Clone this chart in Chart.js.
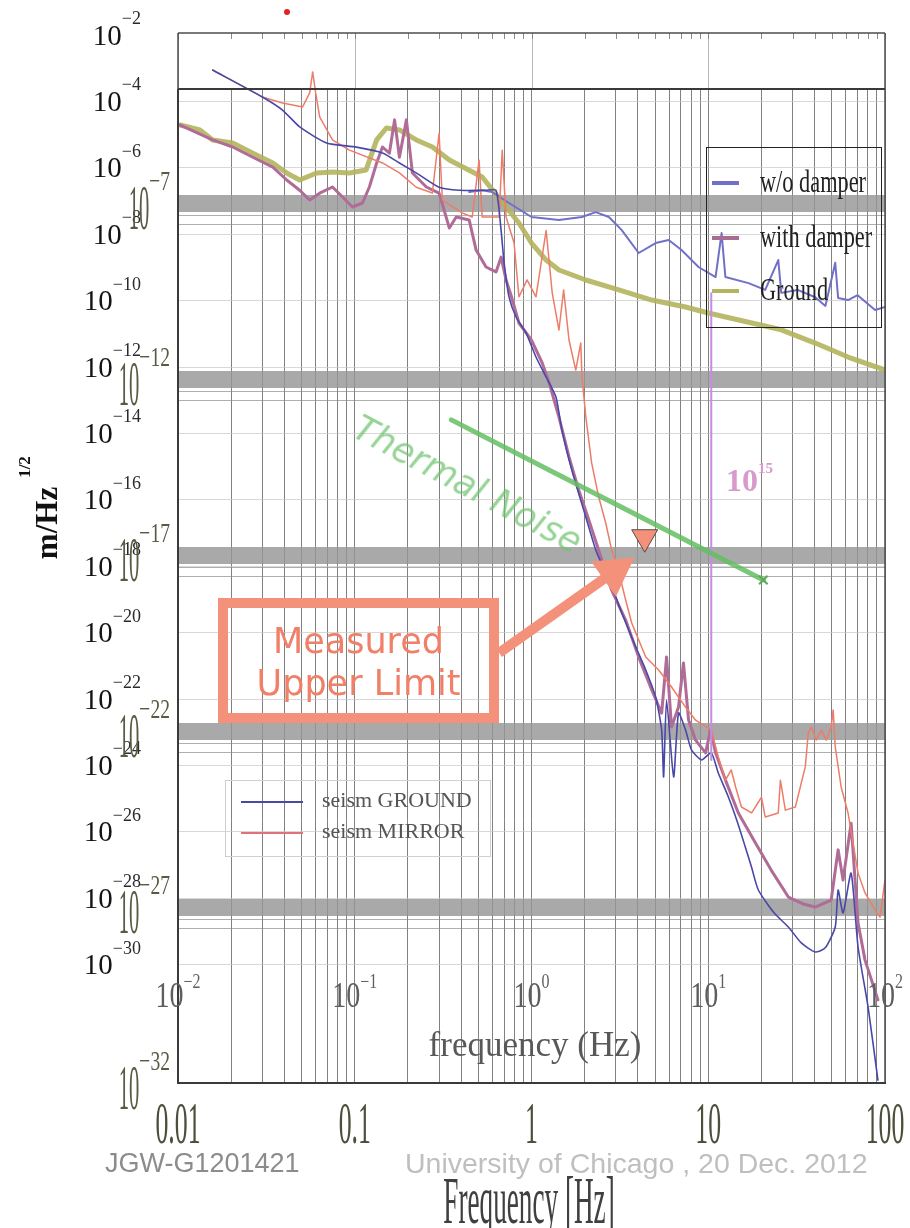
<!DOCTYPE html>
<html>
<head>
<meta charset="utf-8">
<title>Seismic noise spectra</title>
<script src="https://cdn.jsdelivr.net/npm/chart.js@4.4.1/dist/chart.umd.min.js"></script>
<style>
  html, body { margin: 0; padding: 0; background: #fff; }
  #wrap { position: relative; width: 910px; height: 1228px; overflow: hidden; }
  #plot { position: absolute; left: 0; top: 0; width: 910px; height: 1228px; }
  .ov { position: absolute; white-space: nowrap; }
  .box { position: absolute; box-sizing: border-box; }
  .sw { position: absolute; display: block; }
  .serif { font-family: 'Liberation Serif', 'DejaVu Serif', serif; }
  .fun { font-family: 'DejaVu Sans', 'Lato', sans-serif; }
</style>
</head>
<body>
<div id="wrap">
  <canvas id="plot" width="910" height="1228"></canvas>

  <!-- damper legend -->
  <div class="box" style="left:706px; top:147px; width:176px; height:181px; border:1.5px solid #222;">
    <span class="sw" style="left:5px; top:33px; width:27px; height:4px; background:#7070c8;"></span>
    <span class="sw" style="left:5px; top:88px; width:27px; height:4px; background:#a86c92;"></span>
    <span class="sw" style="left:5px; top:141px; width:27px; height:4px; background:#b4b45e;"></span>
    <div class="ov serif" style="left:53px; top:16px; font-size:31px; color:#222; transform:scaleX(0.72); transform-origin:left center;">w/o damper</div>
    <div class="ov serif" style="left:53px; top:71px; font-size:31px; color:#222; transform:scaleX(0.72); transform-origin:left center;">with damper</div>
    <div class="ov serif" style="left:53px; top:124px; font-size:31px; color:#222; transform:scaleX(0.72); transform-origin:left center;">Ground</div>
  </div>

  <!-- seism legend -->
  <div class="box" style="left:225px; top:780px; width:266px; height:77px; border:1px solid #cfcfcf;">
    <span class="sw" style="left:15px; top:20px; width:62px; height:1.5px; background:#4848a8;"></span>
    <span class="sw" style="left:15px; top:51px; width:62px; height:1.5px; background:#e0707a;"></span>
    <div class="ov serif" style="left:96px; top:6px; font-size:22px; color:#555;">seism GROUND</div>
    <div class="ov serif" style="left:96px; top:37px; font-size:22px; color:#555;">seism MIRROR</div>
  </div>

  <!-- annotations -->
  <div class="ov fun" style="left:356px; top:405px; line-height:40px; font-size:35px; font-style:italic; color:rgba(110,196,110,0.72); transform:rotate(28deg); transform-origin:left center;">Thermal Noise</div>

  <div class="box" style="left:218px; top:598px; width:281px; height:125px; border:10px solid #f4917a;">
    <div class="ov fun" style="left:0; width:261px; top:13px; text-align:center; font-size:35px; color:#f08068;">Measured</div>
    <div class="ov fun" style="left:0; width:261px; top:55px; text-align:center; font-size:35px; color:#f08068;">Upper Limit</div>
  </div>

  <div class="ov serif" style="left:726px; top:460px; font-size:32px; font-weight:bold; color:#d79acb;">10<sup style="font-size:15px; vertical-align:18px;">15</sup></div>

  <div class="ov" style="left:284px; top:9px; width:6px; height:6px; border-radius:3px; background:#e02424;"></div>

  <div class="ov" style="left:105px; top:1148px; font-family:'Liberation Sans', 'Open Sans', sans-serif; font-size:27px; color:#8c8c8c;">JGW-G1201421</div>
  <div class="ov" style="left:405px; top:1147px; font-family:'Liberation Sans', 'Open Sans', sans-serif; font-size:28.5px; color:#bfbfbf;">University of Chicago , 20 Dec. 2012</div>
</div>

<script>
// ---- axis bounds and tick values ----
const FREQ_DECADES = [0.01, 0.1, 1, 10, 100];
const FREQ_LABELS = ['0.01', '0.1', '1', '10', '100'];
const INNER_Y_LABELS = [1e-7, 1e-12, 1e-17, 1e-22, 1e-27, 1e-32];
const INNER_Y_BANDS = [1e-7, 1e-12, 1e-17, 1e-22, 1e-27];
const OUTER_Y_LABELS = [1e-2, 1e-4, 1e-6, 1e-8, 1e-10, 1e-12, 1e-14, 1e-16, 1e-18, 1e-20, 1e-22, 1e-24, 1e-26, 1e-28, 1e-30];
const INNER_MIN = 1e-32, INNER_MAX = 6.76e-3, INNER_TOP = 1.73e-4;
const OUTER_MIN = 2.72e-34, OUTER_MAX = 1.148e-2;

// ---- seism GROUND / seism MIRROR (right-hand scale set) ----
const seismGroundFreq = [0.0157, 0.030, 0.039, 0.0488, 0.0693, 0.102, 0.1435, 0.179, 0.232, 0.30, 0.39, 0.553, 0.63, 0.673, 0.70, 0.746, 0.818, 0.931, 1.06, 1.21, 1.375, 1.486, 1.69, 2.03, 2.31, 2.63, 3.0, 3.24, 3.89, 4.43, 5.04, 5.45, 5.59, 5.81, 6.37, 6.79, 7.44, 8.05, 9.17, 10.4, 11.4, 13.0, 14.6, 16.2, 17.5, 19.2, 23.7, 28.4, 33.6, 40.3, 45.9, 52.3, 54.3, 57.9, 64.3, 70.4, 80.2, 91.2];
const seismGroundAmp = [8.8e-4, 1.36e-4, 5.5e-5, 1.7e-5, 5.6e-6, 4.2e-6, 2.8e-6, 1.4e-6, 6.1e-7, 2.6e-7, 2.1e-7, 2.1e-7, 2.1e-7, 1.3e-8, 1.36e-9, 1.3e-10, 3.2e-11, 1.06e-11, 2.0e-12, 5.0e-13, 1.25e-13, 1.26e-14, 7.9e-16, 3.0e-17, 3.1e-18, 6.2e-19, 1.18e-19, 3.9e-20, 3.7e-21, 7.5e-22, 1.15e-22, 1.16e-23, 4.5e-25, 9.3e-23, 4.5e-25, 3.8e-23, 1.16e-23, 2.9e-24, 1.46e-24, 2.4e-24, 5.9e-25, 1.12e-25, 2.0e-26, 3.5e-27, 9.3e-28, 1.77e-28, 3.5e-29, 1.36e-29, 4.5e-30, 2.4e-30, 3.2e-30, 1.36e-29, 1.77e-28, 3.6e-29, 5.7e-28, 3.4e-30, 5.3e-32, 3.3e-34];

const seismMirrorFreq = [0.0157, 0.030, 0.039, 0.0507, 0.0556, 0.0578, 0.0601, 0.0633, 0.0748, 0.0933, 0.1435, 0.179, 0.223, 0.275, 0.30, 0.313, 0.405, 0.462, 0.505, 0.526, 0.656, 0.683, 0.718, 0.797, 0.849, 0.944, 1.06, 1.21, 1.31, 1.43, 1.52, 1.63, 1.78, 1.90, 1.93, 2.03, 2.19, 2.40, 2.63, 2.84, 3.03, 3.41, 3.69, 4.43, 5.24, 6.2, 7.44, 8.48, 10.4, 11.4, 12.5, 13.5, 14.3, 15.4, 17.6, 20, 21, 24.9, 25.6, 27.3, 31.1, 35.4, 36.8, 38.3, 40.8, 43.6, 46.5, 49.6, 50.9, 52.3, 56.5, 61.8, 70.4, 77.1, 87.9, 93.7, 100];
const seismMirrorAmp = [8.8e-4, 1.36e-4, 8.9e-5, 6.8e-5, 1.8e-4, 7.7e-4, 1.8e-4, 3.4e-5, 6.9e-6, 3.4e-6, 1.4e-6, 7.0e-7, 2.6e-7, 1.74e-7, 1.1e-5, 1.07e-7, 4.4e-8, 3.3e-8, 1.7e-6, 3.3e-8, 3.3e-8, 3.4e-6, 3.3e-8, 5.4e-9, 1.3e-10, 4.2e-10, 1.3e-10, 1.3e-8, 1.7e-10, 1.3e-11, 2.1e-10, 6.5e-12, 8.1e-13, 5.3e-12, 5.0e-13, 3.1e-14, 1.28e-15, 1.21e-16, 2.0e-17, 3.1e-18, 1.25e-18, 9.6e-20, 1.95e-20, 1.84e-21, 7.5e-22, 2.3e-22, 5.7e-23, 2.3e-23, 1.16e-23, 1.8e-24, 3.6e-25, 7.3e-25, 2.2e-25, 5.6e-26, 3.7e-26, 1.1e-25, 2.8e-26, 3.7e-26, 3.6e-25, 4.5e-26, 5.6e-26, 9.0e-25, 9.5e-24, 1.44e-23, 5.8e-24, 1.16e-23, 5.8e-24, 1.44e-23, 4.7e-23, 3.6e-24, 2.2e-25, 3.7e-26, 5.7e-28, 1.44e-28, 4.4e-29, 2.7e-29, 3.5e-28];

// ---- damper comparison (left-hand scale set) ----
const groundFreq = [0.0103, 0.0133, 0.0157, 0.0204, 0.0265, 0.0344, 0.0412, 0.0488, 0.0608, 0.0748, 0.0933, 0.116, 0.133, 0.151, 0.179, 0.223, 0.275, 0.343, 0.526, 0.718, 0.849, 1.0, 1.21, 1.43, 2.03, 3.12, 4.79, 7.44, 10.0, 25.9, 40.3, 61.8, 100];
const groundAmp = [1.64e-5, 1.19e-5, 6.2e-6, 5.1e-6, 2.6e-6, 1.37e-6, 7.1e-7, 4.5e-7, 7.1e-7, 7.6e-7, 7.1e-7, 8.7e-7, 6.2e-6, 1.35e-5, 1.19e-5, 6.2e-6, 3.9e-6, 1.67e-6, 5.5e-7, 7.7e-8, 2.7e-8, 7.3e-9, 2.4e-9, 1.25e-9, 6.5e-10, 3.4e-10, 1.75e-10, 1.11e-10, 7.5e-11, 2.5e-11, 1.05e-11, 4.2e-12, 1.8e-12];

const withDamperFreq = [0.0103, 0.0157, 0.0204, 0.0265, 0.0344, 0.0412, 0.0488, 0.0556, 0.0633, 0.0748, 0.0853, 0.097, 0.1106, 0.121, 0.133, 0.1435, 0.157, 0.168, 0.179, 0.196, 0.212, 0.254, 0.30, 0.343, 0.375, 0.444, 0.486, 0.553, 0.63, 0.673, 0.718, 0.766, 0.849, 1.0, 1.15, 1.26, 1.43, 1.63, 1.85, 2.11, 2.5, 2.84, 3.41, 4.04, 4.79, 5.45, 5.81, 6.2, 6.79, 7.24, 7.74, 8.48, 9.66, 10.3, 11.0, 12.5, 14.8, 18.5, 22.7, 28.4, 34.4, 40.3, 49.6, 54.3, 57.9, 64.3, 70.4, 77.1, 91.2];
const withDamperAmp = [1.64e-5, 6.2e-6, 3.9e-6, 2.0e-6, 1.05e-6, 4.5e-7, 2.3e-7, 1.22e-7, 1.9e-7, 2.85e-7, 1.48e-7, 7.7e-8, 1.0e-7, 2.85e-7, 1.37e-6, 3.9e-6, 2.6e-6, 2.3e-5, 2.0e-6, 2.3e-5, 7.1e-7, 2.85e-7, 1.9e-7, 1.95e-8, 4.0e-8, 3.3e-8, 4.6e-9, 1.52e-9, 1.1e-9, 2.9e-9, 6.5e-10, 2.4e-10, 3.9e-11, 1.28e-11, 2.85e-12, 7.7e-13, 8.3e-14, 6.1e-15, 7.0e-16, 9.9e-17, 7.2e-18, 1.0e-18, 1.42e-19, 1.26e-20, 1.46e-21, 3.2e-22, 1.26e-20, 1.3e-22, 4.8e-22, 8.6e-21, 2.05e-22, 5.5e-23, 2.4e-23, 1.07e-22, 2.4e-23, 4.1e-24, 4.7e-25, 6.6e-26, 1.12e-26, 1.92e-27, 1.22e-27, 1.0e-27, 1.58e-27, 4.2e-26, 5.8e-27, 2.4e-25, 3.5e-28, 3.1e-29, 2.3e-30];

const noDamperFreq = [0.444, 0.526, 0.598, 0.746, 1.0, 1.43, 1.93, 2.31, 2.74, 3.24, 4.04, 5.04, 5.97, 7.06, 8.81, 11.0, 11.9, 12.5, 16.9, 21, 24.9, 25.9, 32, 40.3, 46, 52.3, 54.3, 61.8, 70, 87.9, 100];
const noDamperAmp = [2.06e-7, 2.3e-7, 2.06e-7, 1.0e-7, 4.0e-8, 3.3e-8, 4.0e-8, 5.5e-8, 4.0e-8, 1.7e-8, 3.8e-9, 7.3e-9, 8.9e-9, 4.6e-9, 1.52e-9, 7.9e-10, 1.4e-8, 7.9e-10, 5.3e-10, 3.4e-10, 2.4e-9, 2.8e-10, 3.4e-10, 2.1e-10, 1.19e-10, 2.0e-9, 2.0e-10, 1.75e-10, 2.4e-10, 9.1e-11, 1.11e-10];

// thermal noise estimate, measured upper limit marker and arrow, 10 Hz resonance line
const thermalFreq = [0.352, 3.0, 20.5];
const thermalAmp = [6.9e-14, 2.75e-16, 1.95e-18];
const limitFreq = [4.37];
const limitAmp = [3.2e-17];
const arrowFreq = [0.656, 2.92];
const arrowAmp = [1.66e-20, 3.3e-18];
const resonanceFreq = [10.4, 10.4];
const resonanceAmp = [2.75e-10, 1.5e-23];

const pts = (fs, vs) => fs.map((f, i) => ({ x: f, y: vs[i] }));

// all 1..9 x 10^n grid lines along frequency
const freqGrid = [];
FREQ_DECADES.slice(0, -1).forEach(d => { for (let k = 1; k <= 9; k++) freqGrid.push(k * d); });
freqGrid.push(100);

const bandSet = new Set(INNER_Y_BANDS);
const SERIF = "'Liberation Serif', 'DejaVu Serif', serif";

function line(ctx, x1, y1, x2, y2) {
  ctx.beginPath(); ctx.moveTo(x1, y1); ctx.lineTo(x2, y2); ctx.stroke();
}

// text squeezed horizontally, y is the baseline
function squeezed(ctx, text, x, y, size, sx, color, align, weight) {
  ctx.save();
  ctx.font = `${weight || 'normal'} ${size}px ${SERIF}`;
  ctx.fillStyle = color;
  ctx.textBaseline = 'alphabetic';
  ctx.textAlign = 'left';
  const w = ctx.measureText(text).width * sx;
  const left = align === 'right' ? x - w : align === 'center' ? x - w / 2 : x;
  ctx.translate(left, y);
  ctx.scale(sx, 1);
  ctx.fillText(text, 0, 0);
  ctx.restore();
  return w;
}

// "10" with a raised exponent; y is the visual centre of the base digits
function power(ctx, exp, x, y, st) {
  ctx.save();
  ctx.font = `${st.weight || 'normal'} ${st.size}px ${SERIF}`;
  const bw = ctx.measureText('10').width * st.sx;
  ctx.font = `${st.weight || 'normal'} ${st.expSize}px ${SERIF}`;
  const ew = ctx.measureText(exp).width * st.esx;
  ctx.restore();
  const left = st.align === 'right' ? x - bw - ew : x - (bw + ew) / 2;
  squeezed(ctx, '10', left, y + 0.33 * st.size, st.size, st.sx, st.color, 'left', st.weight);
  squeezed(ctx, exp, left + bw, y - st.rise + 0.33 * st.expSize, st.expSize, st.esx, st.expColor || st.color, 'left', st.weight);
}

const framePlugin = {
  id: 'frames',
  beforeDatasetsDraw(chart) {
    const { ctx, chartArea: a, scales } = chart;
    const innerTop = scales.yD.getPixelForValue(INNER_TOP);
    ctx.save();
    ctx.fillStyle = '#fff';
    ctx.fillRect(a.left, a.top, a.right - a.left, innerTop - a.top);
    ctx.strokeStyle = '#b8b8b8';
    ctx.lineWidth = 1;
    FREQ_DECADES.forEach(v => {
      const px = Math.round(scales.x.getPixelForValue(v)) + 0.5;
      line(ctx, px, a.top, px, innerTop);
    });
    ctx.strokeStyle = '#8a8a8a';
    freqGrid.forEach(v => {
      const px = Math.round(scales.x.getPixelForValue(v)) + 0.5;
      line(ctx, px, a.top, px, a.top + 6);
    });
    ctx.restore();
  },
  afterDatasetsDraw(chart) {
    const { ctx, chartArea: a, scales } = chart;
    const innerTop = scales.yD.getPixelForValue(INNER_TOP);
    ctx.save();
    // outer frame
    ctx.strokeStyle = '#4d4d4d';
    ctx.lineWidth = 1.5;
    line(ctx, a.left, a.top, a.right, a.top);
    line(ctx, a.left, a.top, a.left, innerTop);
    line(ctx, a.right, a.top, a.right, a.bottom);
    // inner frame
    ctx.strokeStyle = '#3a3a3a';
    ctx.lineWidth = 2;
    line(ctx, a.left, innerTop, a.right, innerTop);
    line(ctx, a.left, innerTop, a.left, a.bottom);
    line(ctx, a.left - 1, a.bottom, a.right + 1, a.bottom);
    ctx.restore();
  },
  afterDraw(chart) {
    const { ctx, scales } = chart;
    const x = scales.x, yD = scales.yD, yS = scales.yS;

    OUTER_Y_LABELS.forEach(v => {
      const exp = '\u2212' + Math.round(-Math.log10(v));
      power(ctx, exp, 141, yS.getPixelForValue(v), {
        size: 29, expSize: 18, sx: 1, esx: 1, rise: 17, color: '#141414', expColor: '#2a2a2a', align: 'right'
      });
    });

    INNER_Y_LABELS.forEach(v => {
      const exp = '\u2212' + Math.round(-Math.log10(v));
      power(ctx, exp, 170, yD.getPixelForValue(v) + 5, {
        size: 64, expSize: 28, sx: 0.32, esx: 0.7, rise: 27, color: '#5a5a44', align: 'right'
      });
    });

    FREQ_DECADES.forEach((v, i) => {
      const px = x.getPixelForValue(v);
      squeezed(ctx, FREQ_LABELS[i], px, 1143, 60, 0.43, '#4e4e3c', 'center');
      const exp = (v < 1 ? '\u2212' : '') + Math.round(Math.abs(Math.log10(v)));
      power(ctx, exp, px, 995, {
        size: 36, expSize: 20, sx: 0.78, esx: 0.8, rise: 14, color: '#5e5e5e', align: 'center'
      });
    });

    squeezed(ctx, 'Frequency [Hz]', 529, 1223, 68, 0.40, '#404040', 'center');
    squeezed(ctx, 'frequency (Hz)', 535, 1056, 35, 1, '#585858', 'center');

    // vertical unit label
    ctx.save();
    ctx.translate(47, 523);
    ctx.rotate(-Math.PI / 2);
    ctx.fillStyle = '#111';
    ctx.textAlign = 'center';
    ctx.font = `bold 31px ${SERIF}`;
    ctx.fillText('m/Hz', 0, 10);
    ctx.font = `bold 17px ${SERIF}`;
    ctx.fillText('1/2', 56, -17);
    ctx.restore();
  }
};

const base = { pointRadius: 0, fill: false, tension: 0, borderJoinStyle: 'round', borderCapStyle: 'round' };

new Chart(document.getElementById('plot'), {
  type: 'line',
  data: {
    datasets: [
      { ...base, label: 'upper limit', yAxisID: 'yD', data: pts(limitFreq, limitAmp), showLine: false,
        pointRadius: 15, pointStyle: 'triangle', rotation: 180, backgroundColor: '#f4917a', borderColor: '#5a4a44', borderWidth: 1 },
      { ...base, label: 'arrow', yAxisID: 'yD', data: pts(arrowFreq, arrowAmp), borderColor: '#f4917a', borderWidth: 10,
        pointRadius: [0, 15], pointStyle: 'triangle', rotation: 55, backgroundColor: '#f4917a', borderCapStyle: 'butt' },
      { ...base, label: 'Thermal Noise', yAxisID: 'yD', data: pts(thermalFreq, thermalAmp), borderColor: 'rgba(100,190,100,0.85)', borderWidth: 5,
        pointRadius: [0, 0, 6], pointStyle: 'crossRot', pointBorderColor: '#5aaa5a', pointBorderWidth: 2 },
      { ...base, label: 'resonance', yAxisID: 'yD', data: pts(resonanceFreq, resonanceAmp), borderColor: '#c68ce0', borderWidth: 2 },
      { ...base, label: 'seism GROUND', yAxisID: 'yS', data: pts(seismGroundFreq, seismGroundAmp), borderColor: '#4848a8', borderWidth: 1.6, tension: 0.2 },
      { ...base, label: 'seism MIRROR', yAxisID: 'yS', data: pts(seismMirrorFreq, seismMirrorAmp), borderColor: '#ec7d68', borderWidth: 1.5 },
      { ...base, label: 'w/o damper', yAxisID: 'yD', data: pts(noDamperFreq, noDamperAmp), borderColor: '#7070c8', borderWidth: 2 },
      { ...base, label: 'with damper', yAxisID: 'yD', data: pts(withDamperFreq, withDamperAmp), borderColor: '#b06c96', borderWidth: 3 },
      { ...base, label: 'Ground', yAxisID: 'yD', data: pts(groundFreq, groundAmp), borderColor: 'rgba(180,180,94,0.9)', borderWidth: 5 }
    ]
  },
  options: {
    responsive: false,
    animation: false,
    devicePixelRatio: 1,
    layout: { padding: { left: 0, right: 23, top: 33, bottom: 0 } },
    plugins: { legend: { display: false }, tooltip: { enabled: false } },
    scales: {
      x: {
        type: 'logarithmic', position: 'bottom', min: 0.01, max: 100,
        afterBuildTicks: s => { s.ticks = freqGrid.map(v => ({ value: v })); },
        afterFit: s => { s.height = 145; },
        ticks: { display: false },
        grid: { color: 'rgba(80,80,80,0.72)', lineWidth: 1, drawTicks: false },
        border: { display: false }
      },
      yD: {
        type: 'logarithmic', position: 'left', weight: 0, min: INNER_MIN, max: INNER_MAX,
        afterBuildTicks: s => {
          const t = [];
          INNER_Y_BANDS.forEach(b => { t.push({ value: b }, { value: b * 0.456 }, { value: b * 0.253 }); });
          s.ticks = t;
        },
        afterFit: s => { s.width = 30; },
        ticks: { display: false },
        grid: {
          drawTicks: false,
          color: c => (c.tick && bandSet.has(c.tick.value)) ? 'rgba(150,150,150,0.82)' : 'rgba(140,140,140,0.7)',
          lineWidth: c => (c.tick && bandSet.has(c.tick.value)) ? 17 : 1
        },
        border: { display: false }
      },
      yS: {
        type: 'logarithmic', position: 'left', weight: 1, min: OUTER_MIN, max: OUTER_MAX,
        afterBuildTicks: s => { s.ticks = OUTER_Y_LABELS.map(v => ({ value: v })); },
        afterFit: s => { s.width = 148; },
        ticks: { display: false },
        grid: { drawTicks: false, color: 'rgba(200,200,200,0.7)', lineWidth: 1 },
        border: { display: false }
      }
    }
  },
  plugins: [framePlugin]
});
</script>
</body>
</html>
